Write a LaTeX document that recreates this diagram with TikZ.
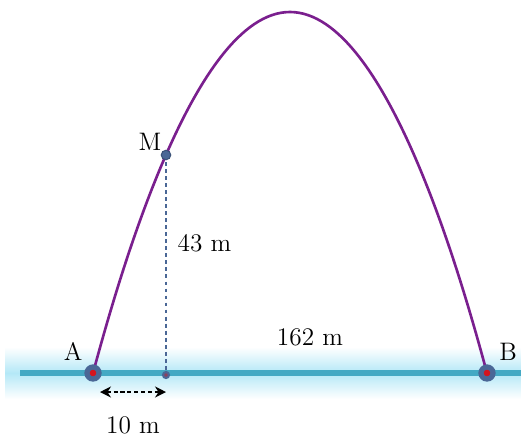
\documentclass[tikz,border=0pt]{standalone}
\usepackage{xcolor}
\usepackage{tikz}
\usetikzlibrary{arrows.meta,positioning}
\definecolor{PPurple}{HTML}{7A1F8E}
\definecolor{PTeal}{HTML}{44A9C4}
\definecolor{PGlow}{HTML}{B4E8F7}
\definecolor{PDot}{HTML}{4A6796}
\definecolor{PRed}{HTML}{D5141E}

\begin{document}
\begin{tikzpicture}[
  x=0.02cm,y=-0.02cm,
  node distance=0pt,
  every node/.style={font=\Large},
  endpt/.style={circle,fill=PRed,draw=PDot,line width=3pt,
    minimum size=0.24cm,inner sep=0pt},
  midpt/.style={circle,fill=PDot,draw=PDot!80!black,line width=0.6pt,
    minimum size=0.19cm,inner sep=0pt},
  footpt/.style={circle,fill=PDot!55!PRed,draw=PDot,line width=1.2pt,
    minimum size=0.12cm,inner sep=0pt},
  traj/.style={draw=PPurple,line width=1.5pt},
  ground/.style={draw=PTeal,line width=3.4pt},
  drop/.style={draw=PDot,line width=0.6pt,dash pattern=on 2.2pt off 1.8pt},
  span/.style={{Stealth[length=2.2mm,width=2.2mm]}-{Stealth[length=2.2mm,width=2.2mm]},
    line width=1.1pt,dash pattern=on 2.3pt off 1.6pt}
]
  \useasboundingbox (0,0) rectangle (521,437);
  % ground and its glow
  \shade[top color=white,bottom color=white,middle color=PGlow]
    (5,347) rectangle (521,399);
  \coordinate (gl) at (20,373);
  \coordinate (gr) at (521,373);
  \draw[ground] (gl) -- (gr);
  % trajectory
  \coordinate (a) at (93,373);
  \coordinate (b) at (487,373);
  \coordinate (top) at (290,12);
  \coordinate (m) at (166,155);
  \coordinate (f) at (166,375);
  \draw[traj] (a) parabola bend (top) (b);
  \draw[drop] (m) -- node[pos=0.4,right=3pt] (h) {43 m} (f);
  \node[endpt] (A) at (a) {};
  \node[endpt] (B) at (b) {};
  \node[midpt] (M) at (m) {};
  \node[footpt] (F) at (f) {};
  \node[above left=0pt and -1pt of A] {A};
  \node[above right=0pt and 0pt of B] {B};
  \node[above left=-3pt and -3pt of M] {M};
  \node (d) at (310,337) {162 m};
  % distance A to foot
  \coordinate (s1) at (100,392);
  \coordinate (s2) at (166,392);
  \draw[span] (s1) -- node[below=0.36cm] (w) {10 m} (s2);
\end{tikzpicture}
\end{document}
